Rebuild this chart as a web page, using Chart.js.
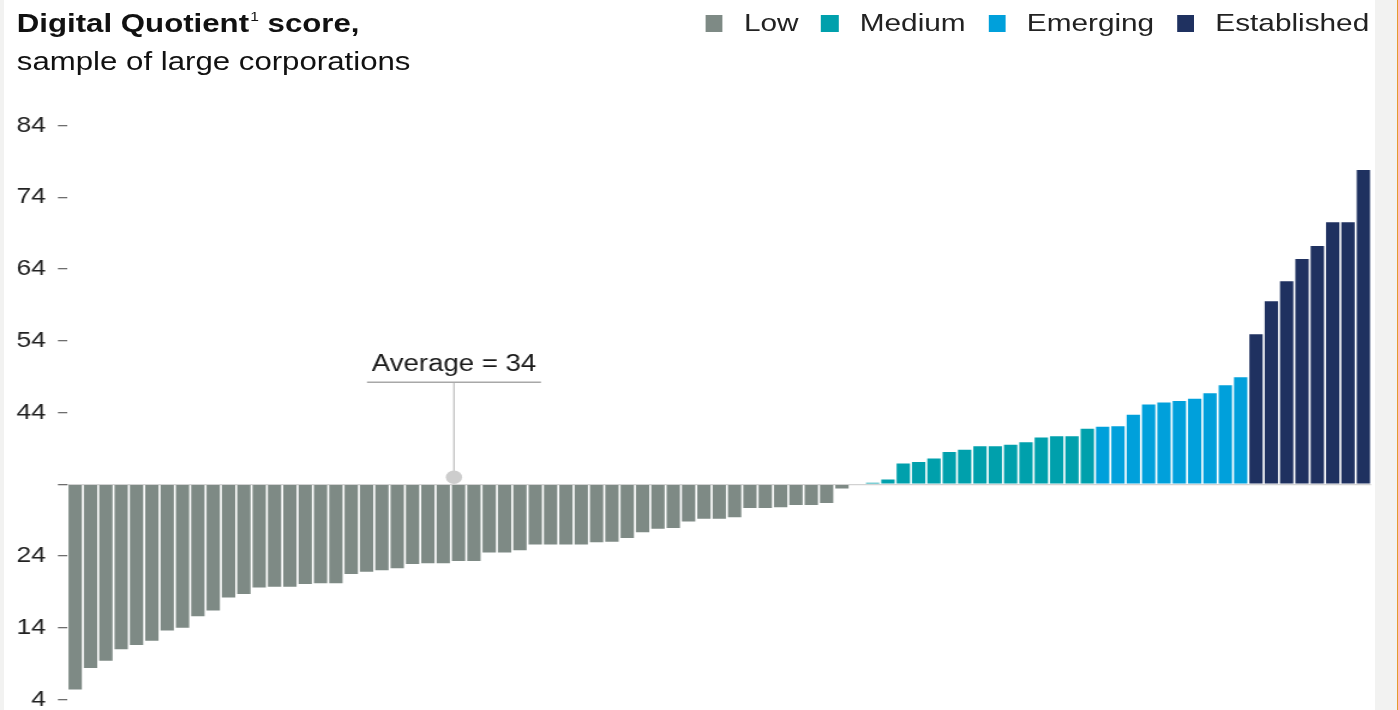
<!DOCTYPE html>
<html>
<head>
<meta charset="utf-8">
<title>Digital Quotient score</title>
<script src="https://cdn.jsdelivr.net/npm/chart.js@4.4.1/dist/chart.umd.min.js"></script>
<style>
  html, body { margin: 0; padding: 0; width: 1398px; height: 710px; overflow: hidden; background: #f2f2f1; }
  body { font-family: "Liberation Sans", Arial, Helvetica, sans-serif; color: #1a1a1a; }
  #panel { position: absolute; left: 4px; top: 0; width: 1371px; height: 710px; background: #ffffff; }
  #edge { position: absolute; left: 1397px; top: 0; width: 1px; height: 710px; background: #e69a2e; }
  /* the whole figure is drawn narrow and widened horizontally */
  #stage { position: absolute; left: 0; top: 0; width: 1165px; height: 710px; transform: scaleX(1.2); transform-origin: 0 0; }
  #title { position: absolute; left: 14px; top: 4px; font-size: 26px; line-height: 38px; color: #111; white-space: nowrap; }
  #title b { font-weight: bold; }
  #title sup { font-size: 13px; line-height: 0; vertical-align: 11px; font-weight: normal; margin-left: 1px; }
  #legend { position: absolute; right: 24px; top: 8px; display: flex; align-items: center; font-size: 24.8px; line-height: 30px; color: #222; white-space: nowrap; }
  #legend .item { display: flex; align-items: center; margin-left: 19px; }
  #legend .swatch { width: 14.5px; height: 17px; margin-right: 17.5px; }
  #chart { position: absolute; left: 0; top: 0; }
</style>
</head>
<body>
<div id="panel"></div>
<div id="edge"></div>
<div id="stage">
  <canvas id="chart" width="1165" height="710"></canvas>
  <div id="title"><b>Digital Quotient<sup>1</sup> score,</b><br>sample of large corporations</div>
  <div id="legend"></div>
</div>
<script>
// Digital Quotient scores, one per corporation, sorted ascending within each tier
const lowScores = [
  5.4, 8.4, 9.4, 11.0, 11.6, 12.2, 13.6, 14.0, 15.6, 16.4,
  18.2, 18.7, 19.6, 19.7, 19.7, 20.1, 20.2, 20.2, 21.5, 21.8,
  22.0, 22.3, 22.9, 23.0, 23.0, 23.3, 23.3, 24.5, 24.5, 24.8,
  25.6, 25.6, 25.6, 25.6, 25.9, 26.0, 26.5, 27.3, 27.8, 27.9,
  28.8, 29.2, 29.2, 29.4, 30.7, 30.7, 30.8, 31.1, 31.1, 31.4,
  33.4, 34.0
];
const mediumScores = [34.2, 34.65, 36.9, 37.1, 37.6, 38.5, 38.8, 39.3, 39.3, 39.5, 39.85, 40.5, 40.7, 40.7, 41.75];
const emergingScores = [42.0, 42.1, 43.7, 45.1, 45.4, 45.6, 45.9, 46.7, 47.8, 48.9];
const establishedScores = [54.9, 59.5, 62.3, 65.4, 67.2, 70.5, 70.5, 77.8];

const tiers = ['Low', 'Medium', 'Emerging', 'Established'];
const tierColors = ['#7e8a85', '#00a0ac', '#00a0db', '#1f3160'];

const yTicks = [4, 14, 24, 34, 44, 54, 64, 74, 84];
const AVERAGE = 34;
// category position (company rank, 0-based) where the average callout is anchored
const CALLOUT_AT = 24.7;

const tierScores = [lowScores, mediumScores, emergingScores, establishedScores];
const allScores = tierScores.flat();
const companies = allScores.map((_, i) => 'Company ' + (i + 1));

let offset = 0;
const datasets = tiers.map((name, t) => {
  const data = new Array(allScores.length).fill(null);
  tierScores[t].forEach((v, j) => { data[offset + j] = v; });
  offset += tierScores[t].length;
  return {
    label: name,
    data,
    base: AVERAGE,
    backgroundColor: tierColors[t],
    borderWidth: 0,
    grouped: false,
    barPercentage: 0.87,
    categoryPercentage: 1
  };
});

// legend
const legendEl = document.getElementById('legend');
tiers.forEach((name, t) => {
  const item = document.createElement('div');
  item.className = 'item';
  const sw = document.createElement('span');
  sw.className = 'swatch';
  sw.style.background = tierColors[t];
  const label = document.createElement('span');
  label.textContent = name;
  item.appendChild(sw);
  item.appendChild(label);
  legendEl.appendChild(item);
});

// callout marking the average on the baseline
const averageCallout = {
  id: 'averageCallout',
  afterDatasetsDraw(chart) {
    const { ctx, scales: { x, y } } = chart;
    const px = x.getPixelForValue(CALLOUT_AT);
    const py = y.getPixelForValue(AVERAGE);
    const rule = py - 102;
    ctx.save();
    ctx.strokeStyle = '#c3c3c3';
    ctx.lineWidth = 1.3;
    ctx.beginPath();
    ctx.moveTo(px, rule);
    ctx.lineTo(px, py - 8);
    ctx.stroke();
    ctx.strokeStyle = '#a8a8a8';
    ctx.beginPath();
    ctx.moveTo(px - 72.5, rule);
    ctx.lineTo(px + 72.5, rule);
    ctx.stroke();
    ctx.fillStyle = '#cdcdcd';
    ctx.beginPath();
    ctx.arc(px, py - 7, 6.8, 0, Math.PI * 2);
    ctx.fill();
    ctx.fillStyle = '#1a1a1a';
    ctx.font = '23px "Liberation Sans", Arial, sans-serif';
    ctx.textAlign = 'center';
    ctx.textBaseline = 'alphabetic';
    ctx.fillText('Average = ' + AVERAGE, px, rule - 11);
    ctx.restore();
  }
};

new Chart(document.getElementById('chart'), {
  type: 'bar',
  data: { labels: companies, datasets },
  plugins: [averageCallout],
  options: {
    responsive: false,
    animation: false,
    events: [],
    layout: { padding: { left: 0, right: 22.5, top: 125.5, bottom: 10.5 } },
    plugins: {
      legend: { display: false },
      tooltip: { enabled: false },
      title: { display: false }
    },
    scales: {
      x: { type: 'category', display: false, offset: true },
      y: {
        min: 4,
        max: 84,
        afterBuildTicks(scale) { scale.ticks = yTicks.map(v => ({ value: v })); },
        afterFit(scale) { scale.width = 56.25; scale.paddingTop = 0; scale.paddingBottom = 0; },
        border: { display: false },
        grid: {
          drawOnChartArea: true,
          color: c => (c.tick && c.tick.value === AVERAGE ? '#d2d2d2' : 'rgba(0,0,0,0)'),
          tickColor: '#6e6e6e',
          tickLength: 8,
          lineWidth: 1.3
        },
        ticks: {
          padding: 10,
          color: '#222',
          font: { family: '"Liberation Sans", Arial, sans-serif', size: 22 },
          callback: v => (v === AVERAGE ? '' : v)
        }
      }
    }
  }
});
</script>
</body>
</html>
